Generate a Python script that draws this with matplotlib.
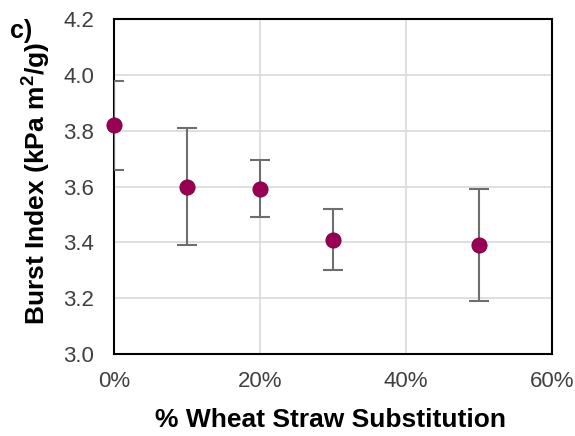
import matplotlib
matplotlib.use("Agg")
import matplotlib.pyplot as plt
from matplotlib.ticker import PercentFormatter

plt.rcParams['font.family'] = ['Liberation Sans', 'DejaVu Sans']
plt.rcParams['mathtext.fontset'] = 'custom'
plt.rcParams['mathtext.rm'] = 'Liberation Sans'
plt.rcParams['mathtext.bf'] = 'Liberation Sans:bold'

substitution = [0.0, 0.10, 0.20, 0.30, 0.50]
burst_index = [3.82, 3.60, 3.59, 3.41, 3.39]
err_upper = [0.16, 0.21, 0.105, 0.11, 0.20]
err_lower = [0.16, 0.21, 0.10, 0.11, 0.20]

fig = plt.figure(figsize=(5.75, 4.36), dpi=100)
ax = fig.add_axes([0.198, 0.188, 0.762, 0.768])

ax.errorbar(substitution, burst_index, yerr=[err_lower, err_upper], fmt='none',
            ecolor='#6e6e6e', elinewidth=1.5, capsize=7, capthick=1.5, zorder=3)
ax.scatter(substitution, burst_index, s=120, color='#990055', edgecolor='#7a0044',
           linewidth=0.6, zorder=4, clip_on=False)

ax.set_xlim(0, 0.6)
ax.set_ylim(3.0, 4.2)
ax.set_xticks([0, 0.2, 0.4, 0.6])
ax.set_yticks([3.0, 3.2, 3.4, 3.6, 3.8, 4.0, 4.2])
ax.xaxis.set_major_formatter(PercentFormatter(1.0, decimals=0))
ax.yaxis.set_major_formatter(plt.FormatStrFormatter('%.1f'))
ax.grid(True, color='#d9d9d9', linewidth=1.2, zorder=0)
ax.set_axisbelow(True)
ax.tick_params(axis='y', length=0, labelsize=16, colors='#404040', pad=14)
ax.tick_params(axis='x', length=0, labelsize=16, colors='#404040', pad=12)
for s in ax.spines.values():
    s.set_color('black')
    s.set_linewidth(1.5)

ax.set_xlabel('% Wheat Straw Substitution', fontsize=19, fontweight='bold')
ax.xaxis.set_label_coords(0.495, -0.16)
ax.set_ylabel('Burst Index (kPa m$\\mathbf{^{2}}$/g)', fontsize=19, fontweight='bold')
ax.yaxis.set_label_coords(-0.138, 0.51)
fig.text(0.017, 0.912, 'c)', fontsize=18, fontweight='bold')

fig.savefig('out.png', dpi=100)
